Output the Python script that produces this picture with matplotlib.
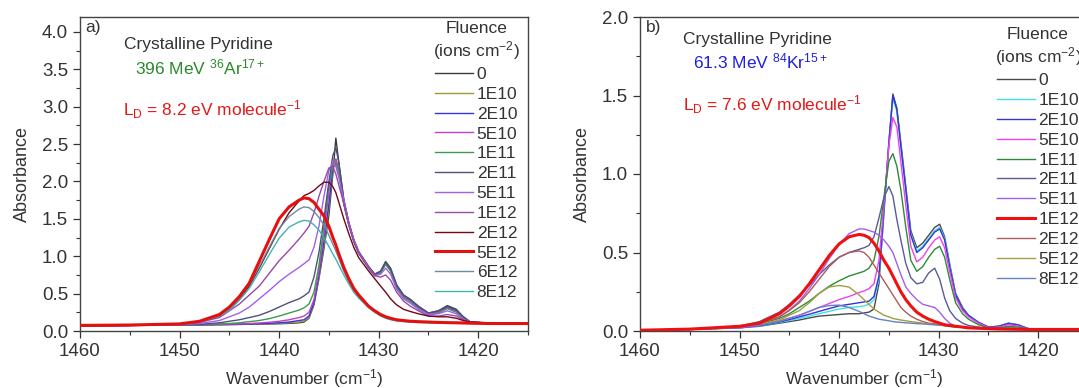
import numpy as np
import matplotlib.pyplot as plt
from matplotlib.ticker import MultipleLocator

plt.rcParams['font.family'] = ['Liberation Sans', 'DejaVu Sans']
plt.rcParams['mathtext.fontset'] = 'custom'
plt.rcParams['mathtext.rm'] = 'Liberation Sans'
plt.rcParams['mathtext.it'] = 'Liberation Sans'

# ---- panel a: 396 MeV Ar ----
xa = [1460, 1455, 1450, 1448, 1446, 1445, 1444, 1443, 1442, 1441, 1440, 1439, 1438,
      1437.5, 1437, 1436.5, 1436, 1435.5, 1435, 1434.6, 1434.3, 1434, 1433.5, 1433,
      1432.5, 1432, 1431, 1430.4, 1429.8, 1429.3, 1428.8, 1428.2, 1427.5, 1426.8,
      1426, 1425, 1424, 1423.1, 1422.2, 1421.5, 1420.8, 1419, 1415]

a_0 = [0.07, 0.075, 0.08, 0.082, 0.085, 0.086, 0.088, 0.09, 0.092, 0.094, 0.097, 0.102, 0.11,
       0.12, 0.17, 0.35, 0.7, 1.1, 1.55, 2.1, 2.58, 2.25, 1.75, 1.45,
       1.22, 1.06, 0.86, 0.76, 0.8, 0.93, 0.84, 0.62, 0.48, 0.42,
       0.33, 0.24, 0.27, 0.34, 0.29, 0.19, 0.12, 0.105, 0.1]
a_1e10 = [0.07, 0.075, 0.08, 0.082, 0.085, 0.087, 0.089, 0.091, 0.094, 0.098, 0.102, 0.11, 0.12,
          0.13, 0.18, 0.36, 0.72, 1.15, 1.65, 2.15, 2.3, 2.15, 1.72, 1.43,
          1.21, 1.05, 0.85, 0.75, 0.79, 0.91, 0.82, 0.6, 0.47, 0.41,
          0.32, 0.23, 0.26, 0.32, 0.27, 0.18, 0.12, 0.105, 0.1]
a_2e10 = [0.07, 0.075, 0.08, 0.082, 0.086, 0.088, 0.09, 0.093, 0.097, 0.103, 0.11, 0.12, 0.14,
          0.15, 0.2, 0.38, 0.75, 1.2, 1.7, 2.18, 2.25, 2.12, 1.7, 1.42,
          1.2, 1.04, 0.85, 0.75, 0.79, 0.91, 0.82, 0.6, 0.47, 0.41,
          0.32, 0.23, 0.26, 0.32, 0.27, 0.18, 0.12, 0.105, 0.1]
a_5e10 = [0.07, 0.075, 0.08, 0.083, 0.088, 0.092, 0.096, 0.1, 0.107, 0.117, 0.13, 0.15, 0.18,
          0.2, 0.25, 0.42, 0.8, 1.3, 1.85, 2.25, 2.3, 2.15, 1.72, 1.43,
          1.21, 1.05, 0.85, 0.75, 0.78, 0.9, 0.81, 0.59, 0.46, 0.4,
          0.31, 0.23, 0.25, 0.31, 0.26, 0.17, 0.12, 0.105, 0.1]
a_1e11 = [0.07, 0.075, 0.08, 0.085, 0.095, 0.1, 0.11, 0.125, 0.14, 0.165, 0.2, 0.24, 0.28,
          0.31, 0.36, 0.52, 0.88, 1.4, 1.95, 2.22, 2.25, 2.12, 1.7, 1.42,
          1.2, 1.04, 0.84, 0.74, 0.78, 0.89, 0.8, 0.58, 0.45, 0.39,
          0.3, 0.22, 0.24, 0.3, 0.25, 0.17, 0.12, 0.105, 0.1]
a_2e11 = [0.07, 0.075, 0.081, 0.088, 0.11, 0.13, 0.15, 0.18, 0.21, 0.26, 0.32, 0.38, 0.43,
          0.47, 0.52, 0.72, 1.05, 1.5, 2.0, 2.35, 2.45, 2.25, 1.76, 1.45,
          1.22, 1.06, 0.86, 0.76, 0.8, 0.92, 0.83, 0.61, 0.48, 0.42,
          0.33, 0.24, 0.27, 0.33, 0.28, 0.19, 0.12, 0.105, 0.1]
a_5e11 = [0.07, 0.075, 0.083, 0.1, 0.14, 0.19, 0.24, 0.32, 0.43, 0.54, 0.66, 0.76, 0.85,
          0.9, 0.95, 1.12, 1.4, 1.8, 2.15, 2.25, 2.2, 2.05, 1.75, 1.45,
          1.22, 1.05, 0.85, 0.74, 0.76, 0.84, 0.76, 0.56, 0.43, 0.37,
          0.29, 0.22, 0.23, 0.27, 0.23, 0.16, 0.12, 0.105, 0.1]
a_1e12 = [0.07, 0.075, 0.088, 0.115, 0.18, 0.27, 0.36, 0.48, 0.6, 0.77, 0.94, 1.08, 1.23,
          1.31, 1.4, 1.58, 1.8, 2.0, 2.18, 2.2, 2.1, 1.95, 1.7, 1.42,
          1.2, 1.04, 0.84, 0.74, 0.72, 0.75, 0.68, 0.52, 0.4, 0.33,
          0.27, 0.2, 0.2, 0.22, 0.2, 0.15, 0.12, 0.105, 0.1]
a_2e12 = [0.07, 0.078, 0.092, 0.125, 0.2, 0.29, 0.42, 0.6, 0.84, 1.1, 1.36, 1.58, 1.74,
          1.81, 1.84, 1.88, 1.94, 1.99, 1.99, 1.93, 1.85, 1.72, 1.5, 1.3,
          1.12, 0.98, 0.8, 0.7, 0.6, 0.52, 0.43, 0.35, 0.29, 0.26,
          0.23, 0.2, 0.19, 0.19, 0.17, 0.14, 0.12, 0.11, 0.1]
a_5e12 = [0.075, 0.08, 0.095, 0.13, 0.22, 0.32, 0.46, 0.64, 0.93, 1.22, 1.5, 1.66, 1.75,
          1.78, 1.77, 1.72, 1.63, 1.54, 1.4, 1.25, 1.15, 1.03, 0.85, 0.7,
          0.57, 0.48, 0.33, 0.27, 0.22, 0.19, 0.17, 0.15, 0.14, 0.13,
          0.125, 0.12, 0.115, 0.112, 0.11, 0.108, 0.105, 0.1, 0.1]
a_6e12 = [0.075, 0.08, 0.094, 0.125, 0.21, 0.3, 0.44, 0.62, 0.86, 1.12, 1.37, 1.53, 1.63,
          1.66, 1.65, 1.6, 1.52, 1.42, 1.28, 1.16, 1.07, 0.97, 0.8, 0.66,
          0.54, 0.45, 0.32, 0.26, 0.21, 0.18, 0.16, 0.145, 0.135, 0.125,
          0.12, 0.115, 0.11, 0.108, 0.106, 0.104, 0.102, 0.1, 0.1]
a_8e12 = [0.075, 0.08, 0.093, 0.122, 0.2, 0.28, 0.41, 0.57, 0.79, 1.02, 1.24, 1.39, 1.46,
          1.48, 1.47, 1.42, 1.35, 1.25, 1.13, 1.03, 0.96, 0.88, 0.75, 0.63,
          0.52, 0.44, 0.31, 0.25, 0.2, 0.17, 0.15, 0.135, 0.125, 0.118,
          0.113, 0.11, 0.106, 0.104, 0.102, 0.1, 0.1, 0.1, 0.1]

labels_a = ['0', '1E10', '2E10', '5E10', '1E11', '2E11', '5E11', '1E12', '2E12',
            '5E12', '6E12', '8E12']
curves_a = [a_0, a_1e10, a_2e10, a_5e10, a_1e11, a_2e11, a_5e11, a_1e12, a_2e12,
            a_5e12, a_6e12, a_8e12]
colors_a = ['#3c3c3c', '#9a9a38', '#3434e0', '#c040c8', '#3e9a4e', '#50507e',
            '#a060e8', '#9a48a8', '#700818', '#e41010', '#6a8ea0', '#40b4b4']

# ---- panel b: 61.3 MeV Kr ----
xb = [1460, 1455, 1450, 1448, 1446, 1445, 1444, 1443, 1442, 1441, 1440, 1439, 1438,
      1437.5, 1437, 1436.5, 1436, 1435.5, 1435, 1434.6, 1434.2, 1433.8, 1433.3, 1432.8,
      1432.2, 1431.6, 1431, 1430.4, 1429.9, 1429.4, 1428.9, 1428.3, 1427.6, 1427,
      1426, 1425, 1424, 1423, 1422, 1421, 1419, 1414]

b_0 = [0.005, 0.01, 0.02, 0.03, 0.05, 0.06, 0.07, 0.083, 0.095, 0.1, 0.105, 0.11, 0.11,
       0.115, 0.12, 0.14, 0.3, 0.75, 1.2, 1.51, 1.42, 1.2, 0.92, 0.64,
       0.53, 0.56, 0.61, 0.66, 0.68, 0.6, 0.43, 0.24, 0.15, 0.1,
       0.055, 0.025, 0.03, 0.05, 0.04, 0.015, 0.01, 0.01]
b_1e10 = [0.005, 0.01, 0.02, 0.032, 0.055, 0.067, 0.08, 0.095, 0.11, 0.125, 0.14, 0.15, 0.155,
          0.16, 0.17, 0.2, 0.33, 0.76, 1.2, 1.48, 1.4, 1.18, 0.9, 0.62,
          0.51, 0.54, 0.59, 0.64, 0.66, 0.59, 0.42, 0.23, 0.14, 0.1,
          0.055, 0.025, 0.03, 0.048, 0.038, 0.015, 0.01, 0.01]
b_2e10 = [0.005, 0.01, 0.021, 0.034, 0.058, 0.073, 0.09, 0.107, 0.125, 0.143, 0.16, 0.17, 0.18,
          0.185, 0.19, 0.22, 0.35, 0.77, 1.2, 1.5, 1.41, 1.18, 0.9, 0.61,
          0.5, 0.53, 0.58, 0.63, 0.65, 0.58, 0.41, 0.23, 0.14, 0.1,
          0.055, 0.025, 0.03, 0.048, 0.038, 0.015, 0.01, 0.01]
b_5e10 = [0.005, 0.01, 0.022, 0.037, 0.065, 0.082, 0.1, 0.125, 0.15, 0.175, 0.2, 0.22, 0.245,
          0.255, 0.27, 0.3, 0.45, 0.8, 1.18, 1.36, 1.3, 1.08, 0.8, 0.54,
          0.44, 0.47, 0.53, 0.58, 0.6, 0.53, 0.38, 0.21, 0.13, 0.09,
          0.05, 0.022, 0.025, 0.04, 0.032, 0.013, 0.01, 0.01]
b_1e11 = [0.005, 0.01, 0.025, 0.045, 0.08, 0.11, 0.15, 0.19, 0.24, 0.285, 0.32, 0.35, 0.37,
          0.38, 0.4, 0.45, 0.6, 0.85, 1.08, 1.13, 1.05, 0.9, 0.66, 0.45,
          0.38, 0.41, 0.47, 0.52, 0.54, 0.47, 0.33, 0.18, 0.11, 0.075,
          0.04, 0.02, 0.02, 0.03, 0.025, 0.012, 0.01, 0.01]
b_2e11 = [0.005, 0.012, 0.03, 0.06, 0.12, 0.17, 0.23, 0.29, 0.36, 0.42, 0.47, 0.5, 0.52,
          0.53, 0.545, 0.6, 0.72, 0.85, 0.92, 0.86, 0.71, 0.58, 0.43, 0.34,
          0.3, 0.31, 0.37, 0.4, 0.33, 0.21, 0.13, 0.08, 0.05, 0.035,
          0.025, 0.015, 0.015, 0.02, 0.017, 0.01, 0.01, 0.01]
b_5e11 = [0.005, 0.012, 0.03, 0.05, 0.09, 0.135, 0.19, 0.27, 0.36, 0.46, 0.55, 0.62, 0.65,
          0.65, 0.64, 0.63, 0.61, 0.58, 0.54, 0.5, 0.43, 0.36, 0.28, 0.24,
          0.2, 0.17, 0.16, 0.15, 0.12, 0.08, 0.05, 0.03, 0.022, 0.018,
          0.015, 0.012, 0.012, 0.014, 0.012, 0.01, 0.01, 0.01]
b_1e12 = [0.005, 0.012, 0.03, 0.05, 0.11, 0.16, 0.22, 0.3, 0.39, 0.48, 0.555, 0.6, 0.615,
          0.61, 0.595, 0.56, 0.51, 0.45, 0.4, 0.35, 0.3, 0.25, 0.2, 0.16,
          0.12, 0.095, 0.075, 0.06, 0.05, 0.04, 0.035, 0.03, 0.025, 0.02,
          0.018, 0.015, 0.013, 0.012, 0.011, 0.01, 0.01, 0.01]
b_2e12 = [0.005, 0.012, 0.028, 0.048, 0.09, 0.13, 0.18, 0.25, 0.33, 0.41, 0.47, 0.5, 0.51,
          0.5, 0.47, 0.42, 0.37, 0.32, 0.27, 0.23, 0.19, 0.15, 0.12, 0.095,
          0.075, 0.06, 0.05, 0.045, 0.04, 0.035, 0.03, 0.027, 0.024, 0.02,
          0.017, 0.015, 0.013, 0.012, 0.011, 0.01, 0.01, 0.01]
b_5e12 = [0.005, 0.012, 0.026, 0.042, 0.07, 0.1, 0.13, 0.18, 0.24, 0.28, 0.29, 0.28, 0.23,
          0.2, 0.17, 0.14, 0.12, 0.1, 0.09, 0.08, 0.075, 0.07, 0.065, 0.06,
          0.055, 0.05, 0.045, 0.04, 0.037, 0.034, 0.03, 0.027, 0.024, 0.02,
          0.017, 0.015, 0.013, 0.012, 0.011, 0.01, 0.01, 0.01]
b_8e12 = [0.005, 0.012, 0.025, 0.038, 0.06, 0.08, 0.1, 0.125, 0.15, 0.162, 0.165, 0.15, 0.125,
          0.11, 0.095, 0.085, 0.075, 0.07, 0.065, 0.06, 0.057, 0.055, 0.052, 0.05,
          0.047, 0.045, 0.042, 0.04, 0.037, 0.034, 0.03, 0.027, 0.024, 0.02,
          0.017, 0.015, 0.013, 0.012, 0.011, 0.01, 0.01, 0.01]

labels_b = ['0', '1E10', '2E10', '5E10', '1E11', '2E11', '5E11', '1E12', '2E12',
            '5E12', '8E12']
curves_b = [b_0, b_1e10, b_2e10, b_5e10, b_1e11, b_2e11, b_5e11, b_1e12, b_2e12,
            b_5e12, b_8e12]
colors_b = ['#4a4a4a', '#40e0e8', '#3434d8', '#f040f0', '#2e8a36', '#5a5a9a',
            '#a060e8', '#f01010', '#b05a5a', '#a0a040', '#6484c0']

fig = plt.figure(figsize=(10.79, 3.88), dpi=100)
ax_a = fig.add_axes([80 / 1079, 57 / 388, 448 / 1079, 314 / 388])
ax_b = fig.add_axes([640 / 1079, 57 / 388, 448 / 1079, 314 / 388])

tc = '#333333'
for ax, x, curves, labels, colors, thick, ymax, legpos in [
        (ax_a, xa, curves_a, labels_a, colors_a, '5E12', 4.2, (0.772, 1.01)),
        (ax_b, xb, curves_b, labels_b, colors_b, '1E12', 2.0, (0.776, 0.99))]:
    for y, lab, c in zip(curves, labels, colors):
        lw = 2.2 if lab == thick else 1.0
        ax.plot(x, y, color=c, lw=lw, label=lab, zorder=3 if lab == thick else 2)
    ax.set_xlim(1460, 1415)
    ax.set_ylim(0, ymax)
    ax.xaxis.set_major_locator(MultipleLocator(10))
    ax.xaxis.set_minor_locator(MultipleLocator(5))
    ax.yaxis.set_minor_locator(MultipleLocator(0.25))
    ax.yaxis.set_major_locator(MultipleLocator(0.5))
    ax.tick_params(which='both', direction='out', colors=tc, labelsize=13.5,
                   top=False, right=False)
    ax.tick_params(which='major', length=5, width=0.9)
    ax.tick_params(which='minor', length=3, width=0.8)
    for s in ax.spines.values():
        s.set_color('#444444')
        s.set_linewidth(1.0)
    ax.set_xlabel('Wavenumber (cm$^{-1}$)', fontsize=12.5, color=tc, labelpad=5)
    ax.set_ylabel('Absorbance', fontsize=13, color=tc, labelpad=8)
    ax.set_yticklabels([f'{v:.1f}' for v in ax.get_yticks()])
    leg = ax.legend(title='Fluence\n(ions cm$^{-2}$)', loc='upper left',
                    bbox_to_anchor=legpos, frameon=False, fontsize=12.5,
                    title_fontsize=12.5, handlelength=2.2, handletextpad=0.2,
                    labelspacing=0.27, borderaxespad=0.0)
    leg.get_title().set_color(tc)
    leg.get_title().set_multialignment('center')
    for t in leg.get_texts():
        t.set_color(tc)

ax_a.text(0.011, 0.965, 'a)', transform=ax_a.transAxes, fontsize=12.5, color=tc, va='center')
ax_a.text(0.098, 0.914, 'Crystalline Pyridine', transform=ax_a.transAxes, fontsize=12.5,
          color=tc, va='center')
ax_a.text(0.123, 0.838, '396 MeV $^{36}$Ar$^{17+}$', transform=ax_a.transAxes,
          fontsize=12.5, color='#2a8a2a', va='center')
ax_a.text(0.096, 0.704, 'L$_{\\mathrm{D}}$ = 8.2 eV molecule$^{-1}$', transform=ax_a.transAxes,
          fontsize=12.5, color='#e41818', va='center')

ax_b.text(0.013, 0.965, 'b)', transform=ax_b.transAxes, fontsize=12.5, color=tc, va='center')
ax_b.text(0.096, 0.927, 'Crystalline Pyridine', transform=ax_b.transAxes, fontsize=12.5,
          color=tc, va='center')
ax_b.text(0.118, 0.857, '61.3 MeV $^{84}$Kr$^{15+}$', transform=ax_b.transAxes,
          fontsize=12.5, color='#2020e0', va='center')
ax_b.text(0.096, 0.72, 'L$_{\\mathrm{D}}$ = 7.6 eV molecule$^{-1}$', transform=ax_b.transAxes,
          fontsize=12.5, color='#e41818', va='center')

fig.savefig('out.png', dpi=100)
